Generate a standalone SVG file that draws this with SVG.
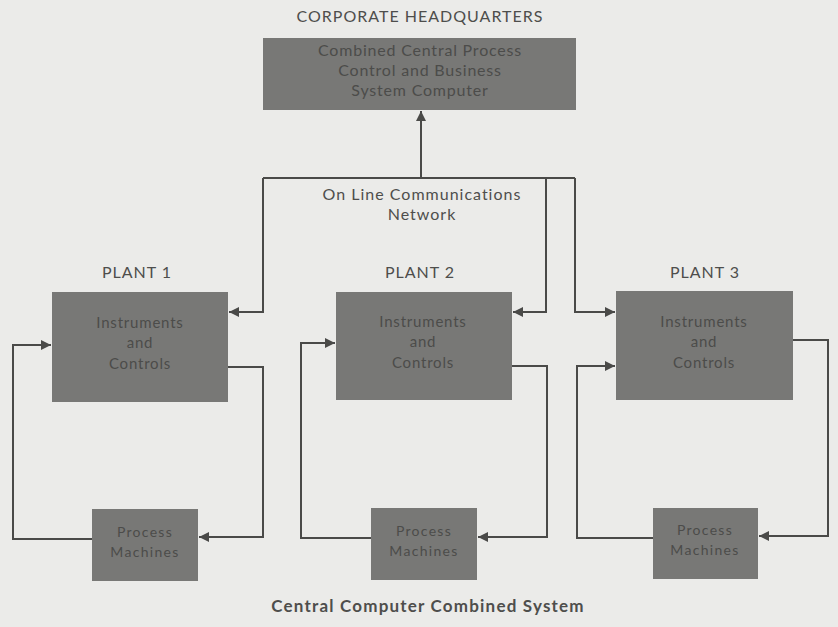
<svg xmlns="http://www.w3.org/2000/svg" width="838" height="627" viewBox="0 0 838 627">
  <style>
    .bg { fill: #ebebe9; }
    .box { fill: #787876; }
    .boxtxt { font-family: "Lato", "Liberation Sans", sans-serif; fill: #4c4c4a; text-anchor: middle; }
    .lbl { font-family: "Lato", "Liberation Sans", sans-serif; fill: #4e4e4c; text-anchor: middle; }
    .hd { font-size: 16px; letter-spacing: 1px; }
    .big { font-size: 16px; letter-spacing: 0.8px; }
    .mid { font-size: 15px; letter-spacing: 0.8px; }
    .sm { font-size: 14px; letter-spacing: 1.3px; }
    .wire { fill: none; stroke: #4a4a48; stroke-width: 2; }
  </style>
  <defs>
    <marker id="arrow" viewBox="0 0 10 10" refX="10" refY="5" markerWidth="6" markerHeight="5" markerUnits="strokeWidth" orient="auto">
      <path d="M0,0 L10,5 L0,10 z" fill="#4a4a48"/>
    </marker>
  </defs>

  <rect class="bg" x="0" y="0" width="838" height="627"/>

  <!-- headquarters -->
  <g id="hq">
    <text class="lbl hd" x="420" y="22">CORPORATE HEADQUARTERS</text>
    <rect class="box" x="263" y="38" width="313" height="72"/>
    <text class="boxtxt big" x="420" y="56">Combined Central Process</text>
    <text class="boxtxt big" x="420" y="76">Control and Business</text>
    <text class="boxtxt big" x="420" y="96">System Computer</text>
  </g>

  <g id="network-label">
    <text class="lbl hd" x="422" y="200">On Line Communications</text>
    <text class="lbl hd" x="422" y="220">Network</text>
  </g>

  <!-- plant 1 -->
  <g id="plant1">
    <text class="lbl hd" x="137" y="278">PLANT  1</text>
    <rect class="box" x="52" y="292" width="176" height="110"/>
    <text class="boxtxt mid" x="140" y="328">Instruments</text>
    <text class="boxtxt mid" x="140" y="348">and</text>
    <text class="boxtxt mid" x="140" y="369">Controls</text>
  </g>
  <g id="machines1">
    <rect class="box" x="92" y="509" width="106" height="72"/>
    <text class="boxtxt sm" x="145" y="537">Process</text>
    <text class="boxtxt sm" x="145" y="557">Machines</text>
  </g>

  <!-- plant 2 -->
  <g id="plant2">
    <text class="lbl hd" x="420" y="278">PLANT  2</text>
    <rect class="box" x="336" y="292" width="176" height="108"/>
    <text class="boxtxt mid" x="423" y="327">Instruments</text>
    <text class="boxtxt mid" x="423" y="347">and</text>
    <text class="boxtxt mid" x="423" y="368">Controls</text>
  </g>
  <g id="machines2">
    <rect class="box" x="371" y="508" width="106" height="72"/>
    <text class="boxtxt sm" x="424" y="536">Process</text>
    <text class="boxtxt sm" x="424" y="556">Machines</text>
  </g>

  <!-- plant 3 -->
  <g id="plant3">
    <text class="lbl hd" x="705" y="278">PLANT 3</text>
    <rect class="box" x="616" y="291" width="177" height="109"/>
    <text class="boxtxt mid" x="704" y="327">Instruments</text>
    <text class="boxtxt mid" x="704" y="347">and</text>
    <text class="boxtxt mid" x="704" y="368">Controls</text>
  </g>
  <g id="machines3">
    <rect class="box" x="653" y="508" width="105" height="71"/>
    <text class="boxtxt sm" x="705" y="535">Process</text>
    <text class="boxtxt sm" x="705" y="555">Machines</text>
  </g>

  <g id="caption">
    <text class="lbl" x="428" y="612" font-size="17" font-weight="bold" letter-spacing="1.2">Central Computer Combined System</text>
  </g>

  <!-- connectors -->
  <g id="connectors">
    <!-- network bus to headquarters -->
    <path class="wire" d="M421,178 L421,111" marker-end="url(#arrow)"/>
    <path class="wire" d="M263,178 L575,178"/>
    <path class="wire" d="M263,178 L263,312 L229,312" marker-end="url(#arrow)"/>
    <path class="wire" d="M546,178 L546,312 L513,312" marker-end="url(#arrow)"/>
    <path class="wire" d="M575,178 L575,312 L615,312" marker-end="url(#arrow)"/>

    <!-- plant 1 loop -->
    <path class="wire" d="M228,367 L263,367 L263,537 L199,537" marker-end="url(#arrow)"/>
    <path class="wire" d="M92,539 L13,539 L13,345 L51,345" marker-end="url(#arrow)"/>

    <!-- plant 2 loop -->
    <path class="wire" d="M512,366 L547,366 L547,537 L478,537" marker-end="url(#arrow)"/>
    <path class="wire" d="M371,538 L301,538 L301,343 L335,343" marker-end="url(#arrow)"/>

    <!-- plant 3 loop -->
    <path class="wire" d="M793,340 L828,340 L828,536 L759,536" marker-end="url(#arrow)"/>
    <path class="wire" d="M653,538 L577,538 L577,366 L615,366" marker-end="url(#arrow)"/>
  </g>
</svg>
